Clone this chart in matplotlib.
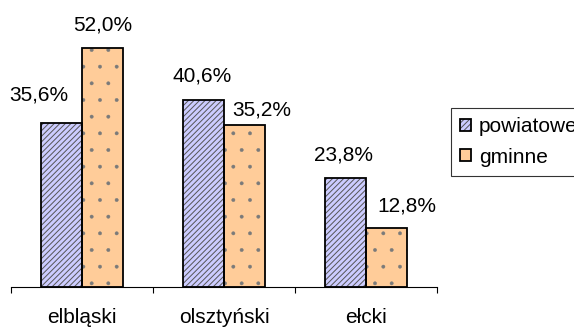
import numpy as np
import matplotlib
matplotlib.use('Agg')
import matplotlib.pyplot as plt

plt.rcParams['font.family'] = ['Liberation Sans', 'DejaVu Sans']
plt.rcParams['hatch.linewidth'] = 0.7

categories = ['elbląski', 'olsztyński', 'ełcki']
powiatowe = [35.6, 40.6, 23.8]
gminne = [52.0, 35.2, 12.8]
series_names = ['powiatowe', 'gminne']

# label offsets (px) relative to the top centre of each bar
off_pow = [(-23, 28), (-1, 24), (-1.5, 23)]
off_gmi = [(0, 23), (17.5, 15), (20, 22.5)]

fig = plt.figure(figsize=(5.74, 3.27), dpi=100)
ax = fig.add_axes([11 / 574, 40 / 327, 426 / 574, 276 / 327])

x = np.arange(len(categories))
w = 0.29
# hatched fill with grey hatch, then black outlines on top
b1 = ax.bar(x - w / 2, powiatowe, w, color='#ccccff', edgecolor='#555555',
            linewidth=0, hatch='//////')
b2 = ax.bar(x + w / 2, gminne, w, color='#ffcc99', edgecolor='#7a7a7a',
            linewidth=0, hatch='.')
o1 = ax.bar(x - w / 2, powiatowe, w, fill=False, edgecolor='black', linewidth=1.3)
o2 = ax.bar(x + w / 2, gminne, w, fill=False, edgecolor='black', linewidth=1.3)

for p in b2:
    try:
        p.set_hatch_linewidth(0.3)
    except AttributeError:
        pass

for bars, vals, offs in [(b1, powiatowe, off_pow), (b2, gminne, off_gmi)]:
    for bar, v, (dx, dy) in zip(bars, vals, offs):
        ax.annotate(f'{v:.1f}%'.replace('.', ','),
                    (bar.get_x() + bar.get_width() / 2, v),
                    xytext=(dx * 0.72, dy * 0.72), textcoords='offset points',
                    ha='center', va='center', fontsize=15)

ax.set_xlim(-0.5, len(categories) - 0.5)
ax.set_ylim(0, 60)
ax.set_yticks([])
for s in ['left', 'right', 'top']:
    ax.spines[s].set_visible(False)
ax.spines['bottom'].set_linewidth(0.8)

ax.set_xticks(np.arange(len(categories) + 1) - 0.5)
ax.set_xticklabels([])
ax.set_xticks(x, minor=True)
ax.set_xticklabels(categories, minor=True, fontsize=15)
ax.tick_params(axis='x', which='major', length=4.3, width=0.8, direction='out')
ax.tick_params(axis='x', which='minor', length=0, pad=15)

leg = fig.legend([(b1[0], o1[0]), (b2[0], o2[0])], series_names,
                 loc='upper left', bbox_to_anchor=(451 / 574, 1 - 108 / 327),
                 frameon=True, fancybox=False, fontsize=15, handlelength=0.5,
                 handleheight=0.5, handletextpad=0.4, borderpad=0.45,
                 labelspacing=0.55, borderaxespad=0)
leg.get_frame().set_edgecolor('black')
leg.get_frame().set_linewidth(0.8)

fig.savefig('out.png', dpi=100)
